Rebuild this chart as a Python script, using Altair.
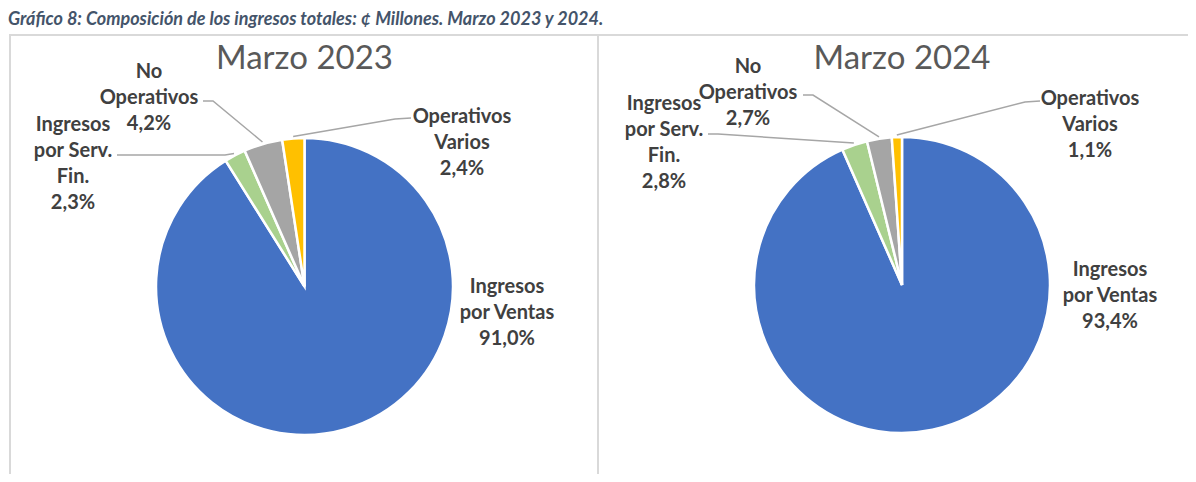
import altair as alt
import pandas as pd
import math

# ---------------- data ----------------
categorias = ["Ingresos por Ventas", "Ingresos por Serv. Fin.", "No Operativos", "Operativos Varios"]
etiquetas = ["Ingresos\npor Ventas", "Ingresos\npor Serv.\nFin.", "No\nOperativos", "Operativos\nVarios"]
valores_2023 = [91.0, 2.3, 4.2, 2.4]
valores_2024 = [93.4, 2.8, 2.7, 1.1]
periodos = ["Marzo 2023", "Marzo 2024"]
colores = ["#4472C4", "#A9D18E", "#A5A5A5", "#FFC000"]
titulo = "Gráfico 8: Composición de los ingresos totales: ¢ Millones. Marzo 2023 y 2024."

# ---------------- layout ----------------
W, H = 1180, 466
pie_layout = {  # centre x, centre y, radius (pixels)
    "Marzo 2023": (296.5, 278.5, 148.5),
    "Marzo 2024": (894.0, 277.0, 148.0),
}
# label first-line positions per period / category
label_pos = {
    "Marzo 2023": [(499, 279), (65, 117), (141, 64), (454, 109)],
    "Marzo 2024": [(1102, 262), (656, 96), (740, 59), (1082, 91)],
}
# leader-line start points (near label) per category index 1..3
leader_start = {
    "Marzo 2023": {1: [(109, 147), (217, 147)], 2: [(195, 93), (205, 93)], 3: [(403, 110), (387, 111)]},
    "Marzo 2024": {1: [(700, 126), (710, 126)], 2: [(795, 87), (805, 87)], 3: [(1032, 93), (1017, 94)]},
}
panel_top = 27

rows, lbl_rows, line_rows = [], [], []
for per, vals in zip(periodos, [valores_2023, valores_2024]):
    tot = sum(vals)
    cx, cy, r = pie_layout[per]
    cum = 0.0
    for i, (c, e, v) in enumerate(zip(categorias, etiquetas, vals)):
        rows.append({"periodo": per, "categoria": c, "valor": v, "orden": i})
        pct = f"{v:.1f}".replace(".", ",") + "%"
        lx, ly = label_pos[per][i]
        lbl_rows.append({"periodo": per, "texto": e + "\n" + pct, "px": lx, "py": ly})
        mid = (cum + v / 2) / tot * 2 * math.pi
        cum += v
        if i in leader_start[per]:
            pts = leader_start[per][i] + [(cx + (r + 2) * math.sin(mid), cy - (r + 2) * math.cos(mid))]
            for k, (px, py) in enumerate(pts):
                line_rows.append({"id": f"{per}-{i}", "k": k, "px": px, "py": py})

df = pd.DataFrame(rows)
df_lbl = pd.DataFrame(lbl_rows)
df_line = pd.DataFrame(line_rows)
df_tit = pd.DataFrame({"texto": periodos,
                       "px": [pie_layout[p][0] for p in periodos],
                       "py": [51, 51]})

xs = alt.Scale(domain=[0, W], range=[0, W])
ys = alt.Scale(domain=[0, H], range=[0, H])
X = lambda f: alt.X(f, type="quantitative", scale=xs, axis=None)
Y = lambda f: alt.Y(f, type="quantitative", scale=ys, axis=None)

dummy = pd.DataFrame({"a": [0]})
panels = [
    alt.Chart(dummy).mark_rect(fill="white", fillOpacity=0, stroke="#D9D9D9", strokeWidth=2).encode(
        x=alt.value(x0), x2=alt.value(x1), y=alt.value(panel_top), y2=alt.value(600))
    for x0, x1 in [(2, 590), (590, 1300)]
]

color = alt.Color("categoria:N", scale=alt.Scale(domain=categorias, range=colores), legend=None)
pies = []
for per in periodos:
    cx, cy, r = pie_layout[per]
    pies.append(
        alt.Chart(df).transform_filter(alt.datum.periodo == per).mark_arc(
            x=cx, y=cy, outerRadius=r, stroke="white", strokeWidth=2.5
        ).encode(
            theta=alt.Theta("valor:Q", stack="normalize"),
            color=color,
            order=alt.Order("orden:Q"),
        )
    )

lines = alt.Chart(df_line).mark_line(color="#A6A6A6", strokeWidth=1.5).encode(
    x=X("px"), y=Y("py"), detail="id:N", order="k:Q")

labels = alt.Chart(df_lbl).mark_text(
    font="Lato", fontSize=20, fontWeight="bold", color="#404040",
    lineBreak="\n", lineHeight=26, align="center", baseline="middle"
).encode(x=X("px"), y=Y("py"), text="texto:N")

titles = alt.Chart(df_tit).mark_text(
    font="Lato", fontSize=33, color="#595959", align="center", baseline="middle"
).encode(x=X("px"), y=Y("py"), text="texto:N")

main_title = alt.Chart(pd.DataFrame({"t": [titulo]})).mark_text(
    font="Lato", fontSize=18, fontWeight="bold", fontStyle="italic", color="#44546A",
    align="left", baseline="top"
).encode(x=alt.value(0), y=alt.value(3), text="t:N")

chart = alt.layer(*panels, *pies, lines, labels, titles, main_title).resolve_scale(
    theta="independent"
).properties(
    width=W, height=H, padding=0, autosize=alt.AutoSizeParams(type="none")
).configure_view(stroke=None)

chart.save("out.html", embed_options={"renderer": "svg", "actions": False})
